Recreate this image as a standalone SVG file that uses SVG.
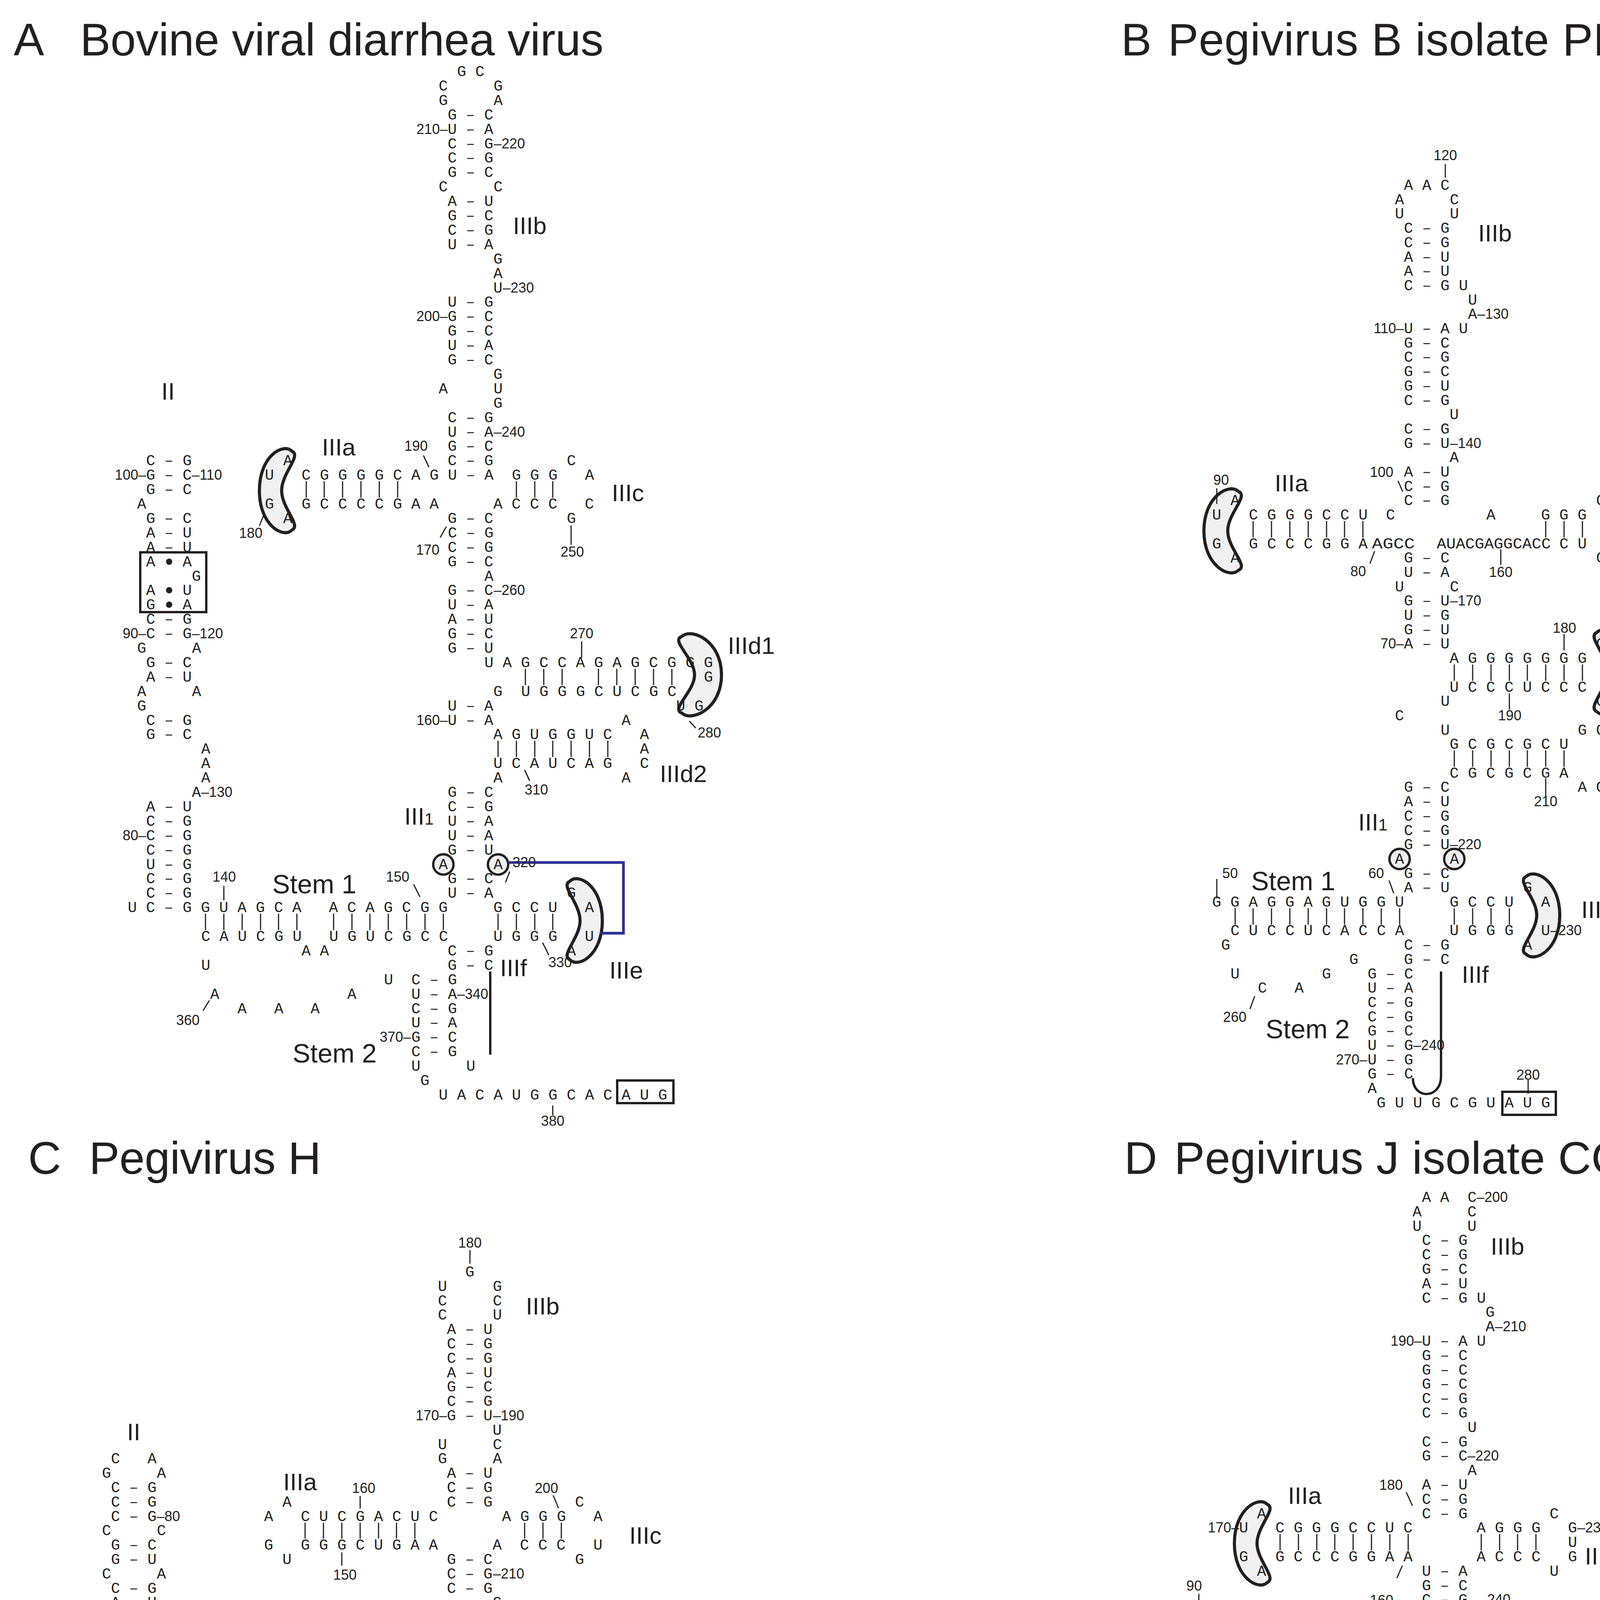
<svg xmlns="http://www.w3.org/2000/svg" width="4589" height="6283" viewBox="0 0 4589 6283" xml:space="preserve">
<style>
.n{font-family:"Liberation Mono","DejaVu Sans Mono",monospace;font-size:39px;fill:#231f20;white-space:pre}
.m{font-family:"Liberation Sans",Arial,sans-serif;font-size:36px;fill:#231f20}
.mm{font-family:"Liberation Sans",Arial,sans-serif;font-size:36px;fill:#231f20;text-anchor:middle}
.me{font-family:"Liberation Sans",Arial,sans-serif;font-size:36px;fill:#231f20;text-anchor:end}
.l{font-family:"Liberation Sans",Arial,sans-serif;font-size:62px;fill:#231f20}
.s{font-family:"Liberation Sans",Arial,sans-serif;font-size:68px;fill:#231f20}
.t{font-family:"Liberation Sans",Arial,sans-serif;font-size:117px;fill:#231f20}
.b{stroke:#231f20;stroke-width:3;fill:none}
.k{stroke:#231f20;stroke-width:8;fill:#f0f0f0}
.c{stroke:#231f20;stroke-width:6;fill:#f0f0f0}
.r{stroke:#231f20;stroke-width:6;fill:none}
.v{stroke:#231f20;stroke-width:6;fill:none}
</style>
<rect width="4589" height="6283" fill="#fff"/>
<g id="titles">
<text class="t" x="35" y="142">A</text><text class="t" x="205" y="142" textLength="1340">Bovine viral diarrhea virus</text>
<text class="t" x="2870" y="142">B</text><text class="t" x="2990" y="142" textLength="1555">Pegivirus B isolate PDB-1734</text>
<text class="t" x="72" y="3005">C</text><text class="t" x="228" y="3005" textLength="594">Pegivirus H</text>
<text class="t" x="2878" y="3005">D</text><text class="t" x="3006" y="3005" textLength="1283">Pegivirus J isolate CC61</text>
</g>
<g id="shapes">
<path class="k" d="M747,1155 C773,1166 721,1211 721,1256 C721,1301 773,1346 747,1357 C726,1379 664,1346 664,1256 C664,1166 726,1133 747,1155Z"/>
<path class="k" d="M1746,1629 C1715,1640 1778,1684 1778,1728 C1778,1771 1715,1815 1746,1826 C1771,1848 1847,1815 1847,1728 C1847,1640 1771,1607 1746,1629Z"/>
<path class="k" d="M1459,2256 C1433,2267 1485,2312 1485,2357 C1485,2401 1433,2446 1459,2457 C1480,2479 1542,2446 1542,2357 C1542,2267 1480,2234 1459,2256Z"/>
<path class="k" d="M3170,1258 C3198,1269 3143,1314 3143,1359 C3143,1404 3198,1449 3170,1460 C3148,1482 3082,1449 3082,1359 C3082,1269 3148,1236 3170,1258Z"/>
<path class="k" d="M4088,1619 C4062,1630 4115,1675 4115,1720 C4115,1765 4062,1810 4088,1822 C4110,1844 4174,1810 4174,1720 C4174,1630 4110,1597 4088,1619Z"/>
<path class="k" d="M3907,2244 C3881,2255 3934,2299 3934,2343 C3934,2387 3881,2432 3907,2443 C3930,2465 3993,2432 3993,2343 C3993,2255 3930,2222 3907,2244Z"/>
<path class="k" d="M1457,4953 C1431,4964 1484,5009 1484,5054 C1484,5099 1431,5144 1457,5156 C1479,5178 1543,5144 1543,5054 C1543,4964 1479,4931 1457,4953Z"/>
<path class="k" d="M1880,4372 C1925,4385 1920,4470 1890,4505 C1860,4540 1800,4545 1790,4515 C1782,4490 1820,4480 1845,4460 C1865,4440 1845,4420 1850,4395 C1855,4375 1868,4368 1880,4372Z"/>
<path class="k" d="M3244,3851 C3270,3862 3218,3907 3218,3951 C3218,3995 3270,4040 3244,4051 C3223,4073 3160,4040 3160,3951 C3160,3862 3223,3829 3244,3851Z"/>
<path class="k" d="M3955,4939 C3924,4950 3987,4994 3987,5038 C3987,5082 3924,5126 3955,5137 C3981,5159 4057,5126 4057,5038 C4057,4950 3981,4917 3955,4939Z"/>
<rect class="k" x="4215" y="4352" width="61" height="140" rx="30"/>
<circle class="c" cx="1135" cy="2213" r="26"/><circle class="c" cx="1275" cy="2213" r="26"/>
<circle class="c" cx="3583" cy="2199" r="26"/><circle class="c" cx="3723" cy="2199" r="26"/>
<circle class="c" cx="1132" cy="4912" r="26"/><circle class="c" cx="1273" cy="4912" r="26"/>
<circle class="c" cx="3628" cy="4905" r="26"/><circle class="c" cx="3768" cy="4905" r="26"/>
<rect class="r" x="359" y="1414" width="169" height="153"/>
<rect class="r" x="1580" y="2766" width="144" height="58"/>
<rect class="r" x="3846" y="2795" width="137" height="59"/>
<rect class="r" x="1039" y="5775" width="70" height="113"/>
<rect class="r" x="2935" y="4445" width="167" height="150"/>
<rect class="r" x="3465" y="5800" width="72" height="122"/>
<g fill="#231f20"><circle cx="433" cy="1438" r="8"/><circle cx="433" cy="1511" r="8"/><circle cx="433" cy="1548" r="8"/><circle cx="3022" cy="4463" r="8"/><circle cx="3022" cy="4537" r="8"/><circle cx="3022" cy="4574" r="8"/></g>
</g>
<g id="connectors">
<path class="b" d="M784,1232V1274M830,1232V1274M877,1232V1274M924,1232V1274M971,1232V1274M1018,1232V1274M1322,1232V1274M1369,1232V1274M1415,1232V1274
M1345,1712V1754M1392,1712V1754M1439,1712V1754M1532,1712V1754M1579,1712V1754M1626,1712V1754M1673,1712V1754M1720,1712V1754
M1275,1896V1938M1322,1896V1938M1369,1896V1938M1415,1896V1938M1462,1896V1938M1509,1896V1938M1556,1896V1938
M526,2339V2381M573,2339V2381M620,2339V2381M667,2339V2381M713,2339V2381M760,2339V2381M854,2339V2381M901,2339V2381M947,2339V2381M994,2339V2381M1041,2339V2381M1088,2339V2381M1135,2339V2381M1275,2339V2381M1322,2339V2381M1369,2339V2381M1415,2339V2381
M1084,1166L1098,1196M664,1346L677,1314M1462,1345V1395M1489,1642V1684M1765,1846L1781,1864M1343,1971L1356,1999M573,2268V2305M1059,2264L1075,2296M1305,2231L1294,2259M1389,2413L1405,2445M520,2587L536,2561M1415,2830V2855"/>
<path class="v" d="M1255,2487V2700"/>
<path d="M1302,2208H1596V2389H1536" stroke="#2e3192" stroke-width="7" fill="none"/>
<path class="b" d="M3208,1334V1376M3255,1334V1376M3302,1334V1376M3349,1334V1376M3396,1334V1376M3442,1334V1376M3489,1334V1376M3957,1334V1376M4004,1334V1376M4051,1334V1376
M3723,1701V1743M3770,1701V1743M3817,1701V1743M3864,1701V1743M3910,1701V1743M3957,1701V1743M4004,1701V1743M4051,1701V1743
M3723,1921V1963M3770,1921V1963M3817,1921V1963M3864,1921V1963M3910,1921V1963M3957,1921V1963M4004,1921V1963
M3162,2325V2367M3208,2325V2367M3255,2325V2367M3302,2325V2367M3349,2325V2367M3396,2325V2367M3442,2325V2367M3489,2325V2367M3536,2325V2367M3583,2325V2367M3723,2325V2367M3770,2325V2367M3817,2325V2367M3864,2325V2367
M3700,420V455M3579,1231L3591,1259M3115,1250V1290M3519,1411L3507,1443M3842,1406V1446M4004,1623V1665M3864,1775V1817M3957,1992V2040M3556,2254L3568,2287M3115,2250V2300M3212,2550L3200,2583M3912,2762V2800"/>
<path class="v" d="M3689,2487V2755C3689,2815 3617,2815 3617,2760"/>
<path class="b" d="M781,3898V3939M828,3898V3939M875,3898V3939M922,3898V3939M969,3898V3939M1015,3898V3939M1062,3898V3939M1343,3898V3939M1390,3898V3939M1437,3898V3939
M1343,4413V4454M1390,4413V4454M1437,4413V4454M1483,4413V4454M1530,4413V4454M1624,4413V4454M1671,4413V4454M1717,4413V4454M1764,4413V4454
M1343,4597V4638M1390,4597V4638M1437,4597V4638M1483,4597V4638M1530,4597V4638
M758,5038V5080M805,5038V5080M852,5038V5080M898,5038V5080M945,5038V5080M992,5038V5080M1039,5038V5080M1086,5038V5080M1132,5038V5080M1273,5038V5080M1320,5038V5080M1366,5038V5080M1413,5038V5080
M1203,3200V3235M922,3830V3862M1416,3828L1430,3861M875,3974V4008M1665,4347L1648,4377M1701,4495L1718,4526M1530,4675V4708M1460,4930V4962M858,4965V5000M389,5040V5075M815,5260L802,5290M1577,5490V5525M1205,5519L1219,5550"/>
<path class="v" d="M1250,5183V5332M691,5093Q650,5140 680,5188"/>
<path class="b" d="M3277,3927V3969M3324,3927V3969M3371,3927V3969M3417,3927V3969M3464,3927V3969M3511,3927V3969M3558,3927V3969M3605,3927V3969M3792,3927V3969M3839,3927V3969M3885,3927V3969M3932,3927V3969
M3768,4406V4447M3815,4406V4447M3862,4406V4447M3909,4406V4447M3956,4406V4447M4002,4406V4447M4049,4406V4447M4096,4406V4447M4143,4406V4447
M3792,4590V4631M3839,4590V4631M3885,4590V4631M3932,4590V4631M3979,4590V4631
M3162,4700V4742M3209,4700V4742M3256,4700V4742M3303,4700V4742M3349,4700V4742
M3209,5031V5073M3256,5031V5073M3303,5031V5073M3349,5031V5073M3396,5031V5073M3443,5031V5073M3490,5031V5073M3537,5031V5073M3583,5031V5073M3630,5031V5073M3768,5031V5073M3815,5031V5073M3862,5031V5073M3909,5031V5073
M3600,3820L3616,3855M3590,4008L3576,4040M3069,4080V4115M3862,4335V4375M3302,4625V4668M4026,4700V4738M3182,4768L3194,4797M3956,4918V4958M3191,4962L3180,4988M3605,4965L3616,4988M3745,5465V5512M3511,5402V5440"/>
<path class="v" d="M3698,5185V5310M3177,5087Q3135,5100 3138,5125M3138,5190Q3140,5215 3177,5225"/>
</g>
<g id="panelA">
<text class="n" x="1170" y="195">G C</text>
<text class="n" x="1123" y="232">C     G</text>
<text class="n" x="1123" y="269">G     A</text>
<text class="n" x="1146" y="306">G – C</text>
<text class="n" x="1146" y="343">U – A</text>
<text class="n" x="1146" y="380">C – G</text>
<text class="n" x="1146" y="416">C – G</text>
<text class="n" x="1146" y="453">G – C</text>
<text class="n" x="1123" y="490">C     C</text>
<text class="n" x="1146" y="527">A – U</text>
<text class="n" x="1146" y="564">G – C</text>
<text class="n" x="1146" y="601">C – G</text>
<text class="n" x="1146" y="638">U – A</text>
<text class="n" x="1263" y="675">G</text>
<text class="n" x="1263" y="712">A</text>
<text class="n" x="1263" y="749">U</text>
<text class="n" x="1146" y="785">U – G</text>
<text class="n" x="1146" y="822">G – C</text>
<text class="n" x="1146" y="859">G – C</text>
<text class="n" x="1146" y="896">U – A</text>
<text class="n" x="1146" y="933">G – C</text>
<text class="n" x="1263" y="970">G</text>
<text class="n" x="1123" y="1007">A     U</text>
<text class="n" x="1263" y="1044">G</text>
<text class="n" x="1146" y="1081">C – G</text>
<text class="n" x="1146" y="1118">U – A</text>
<text class="n" x="1146" y="1154">G – C</text>
<text class="n" x="1146" y="1191">C – G</text><text class="n" x="1451" y="1191">C</text><text class="n" x="725" y="1191">A</text><text class="n" x="374" y="1191">C – G</text>
<text class="n" x="374" y="1228">G – C</text><text class="n" x="678" y="1228">U</text><text class="n" x="772" y="1228">C G G G G C A G U – A  G G G   A</text>
<text class="n" x="374" y="1265">G – C</text>
<text class="n" x="351" y="1302">A</text><text class="n" x="678" y="1302">G</text><text class="n" x="772" y="1302">G C C C C G A A</text><text class="n" x="1263" y="1302">A C C C   C</text>
<text class="n" x="374" y="1339">G – C</text><text class="n" x="725" y="1339">A</text><text class="n" x="1146" y="1339">G – C</text><text class="n" x="1451" y="1339">G</text>
<text class="n" x="374" y="1376">A – U</text><text class="n" x="1123" y="1376">/C – G</text>
<text class="n" x="374" y="1413">A – U</text><text class="n" x="1146" y="1413">C – G</text>
<text class="n" x="374" y="1450">A   A</text><text class="n" x="1146" y="1450">G – C</text>
<text class="n" x="491" y="1487">G</text><text class="n" x="1240" y="1487">A</text>
<text class="n" x="374" y="1523">A   U</text><text class="n" x="1146" y="1523">G – C</text>
<text class="n" x="374" y="1560">G   A</text><text class="n" x="1146" y="1560">U – A</text>
<text class="n" x="374" y="1597">C – G</text><text class="n" x="1146" y="1597">A – U</text>
<text class="n" x="374" y="1634">C – G</text><text class="n" x="1146" y="1634">G – C</text>
<text class="n" x="351" y="1671">G     A</text><text class="n" x="1146" y="1671">G – U</text>
<text class="n" x="374" y="1708">G – C</text><text class="n" x="1240" y="1708">U A G C C A G A G C G</text><text class="n" x="1755" y="1708">G G</text>
<text class="n" x="374" y="1745">A – U</text><text class="n" x="1802" y="1745">G</text>
<text class="n" x="351" y="1782">A     A</text><text class="n" x="1263" y="1782">G</text><text class="n" x="1334" y="1782">U G G G C U C G C</text>
<text class="n" x="351" y="1819">G</text><text class="n" x="1146" y="1819">U – A</text><text class="n" x="1731" y="1819">U G</text>
<text class="n" x="374" y="1856">C – G</text><text class="n" x="1146" y="1856">U – A</text><text class="n" x="1591" y="1856">A</text>
<text class="n" x="374" y="1892">G – C</text><text class="n" x="1263" y="1892">A G U G G U C</text><text class="n" x="1638" y="1892">A</text>
<text class="n" x="515" y="1929">A</text><text class="n" x="1638" y="1929">A</text>
<text class="n" x="515" y="1966">A</text><text class="n" x="1263" y="1966">U C A U C A G</text><text class="n" x="1638" y="1966">C</text>
<text class="n" x="515" y="2003">A</text><text class="n" x="1263" y="2003">A</text><text class="n" x="1591" y="2003">A</text>
<text class="n" x="491" y="2040">A</text><text class="n" x="1146" y="2040">G – C</text>
<text class="n" x="374" y="2077">A – U</text><text class="n" x="1146" y="2077">C – G</text>
<text class="n" x="374" y="2114">C – G</text><text class="n" x="1146" y="2114">U – A</text>
<text class="n" x="374" y="2151">C – G</text><text class="n" x="1146" y="2151">U – A</text>
<text class="n" x="374" y="2188">C – G</text><text class="n" x="1146" y="2188">G – U</text>
<text class="n" x="374" y="2225">U – G</text><text class="n" x="1123" y="2225">A     A</text>
<text class="n" x="374" y="2261">C – G</text><text class="n" x="1146" y="2261">G – C</text>
<text class="n" x="374" y="2298">C – G</text><text class="n" x="1146" y="2298">U – A</text><text class="n" x="1451" y="2298">G</text>
<text class="n" x="327" y="2335">U C – G G U A G C A   A C A G C G G</text><text class="n" x="1263" y="2335">G C C U   A</text>
<text class="n" x="515" y="2409">C A U C G U   U G U C G C C</text><text class="n" x="1263" y="2409">U G G G   U</text>
<text class="n" x="772" y="2446">A A</text><text class="n" x="1146" y="2446">C – G</text><text class="n" x="1451" y="2446">A</text>
<text class="n" x="515" y="2483">U</text><text class="n" x="1146" y="2483">G – C</text>
<text class="n" x="983" y="2520">U</text><text class="n" x="1053" y="2520">C – G</text>
<text class="n" x="538" y="2557">A</text><text class="n" x="889" y="2557">A</text><text class="n" x="1053" y="2557">U – A</text>
<text class="n" x="608" y="2594">A</text><text class="n" x="702" y="2594">A</text><text class="n" x="795" y="2594">A</text><text class="n" x="1053" y="2594">C – G</text>
<text class="n" x="1053" y="2630">U – A</text>
<text class="n" x="1053" y="2667">G – C</text>
<text class="n" x="1053" y="2704">C – G</text>
<text class="n" x="1053" y="2741">U     U</text>
<text class="n" x="1076" y="2778">G</text>
<text class="n" x="1123" y="2815">U A C A U G G C A C A U G</text>
<text class="me" x="1146" y="343">210–</text><text class="m" x="1264" y="380">–220</text><text class="m" x="1287" y="749">–230</text><text class="me" x="1146" y="822">200–</text><text class="m" x="1264" y="1118">–240</text><text class="mm" x="1065" y="1154">190</text>
<text class="me" x="374" y="1228">100–</text><text class="m" x="491" y="1228">–110</text><text class="mm" x="642" y="1377">180</text><text class="me" x="1125" y="1420">170</text><text class="mm" x="1465" y="1425">250</text>
<text class="m" x="1264" y="1523">–260</text><text class="me" x="374" y="1634">90–</text><text class="m" x="491" y="1634">–120</text><text class="mm" x="1489" y="1634">270</text><text class="me" x="1146" y="1856">160–</text><text class="mm" x="1816" y="1888">280</text>
<text class="mm" x="1373" y="2034">310</text><text class="m" x="515" y="2040">–130</text><text class="me" x="374" y="2151">80–</text><text class="m" x="1312" y="2220">320</text><text class="mm" x="574" y="2257">140</text><text class="mm" x="1018" y="2257">150</text>
<text class="mm" x="1434" y="2476">330</text><text class="m" x="1170" y="2557">–340</text><text class="mm" x="481" y="2624">360</text><text class="me" x="1052" y="2667">370–</text><text class="mm" x="1415" y="2882">380</text>
<text class="l" x="413" y="1023">II</text><text class="l" x="824" y="1166">IIIa</text><text class="l" x="1313" y="599">IIIb</text><text class="l" x="1566" y="1283">IIIc</text><text class="l" x="1863" y="1674">IIId1</text><text class="l" x="1689" y="2002">IIId2</text>
<text class="l" x="1035" y="2111">III<tspan font-size="42">1</tspan></text><text class="s" x="697" y="2287">Stem 1</text><text class="l" x="1280" y="2499">IIIf</text><text class="l" x="1560" y="2505">IIIe</text><text class="s" x="749" y="2720">Stem 2</text>
</g>
<g id="panelB">
<text class="n" x="3594" y="486">A A C</text>
<text class="n" x="3571" y="523">A     C</text>
<text class="n" x="3571" y="559">U     U</text>
<text class="n" x="3594" y="596">C – G</text>
<text class="n" x="3594" y="633">C – G</text>
<text class="n" x="3594" y="670">A – U</text>
<text class="n" x="3594" y="706">A – U</text>
<text class="n" x="3594" y="743">C – G U</text>
<text class="n" x="3758" y="780">U</text>
<text class="n" x="3758" y="816">A</text>
<text class="n" x="3594" y="853">U – A U</text>
<text class="n" x="3594" y="890">G – C</text>
<text class="n" x="3594" y="926">C – G</text>
<text class="n" x="3594" y="963">G – C</text>
<text class="n" x="3594" y="1000">G – U</text>
<text class="n" x="3594" y="1037">C – G</text>
<text class="n" x="3711" y="1073">U</text>
<text class="n" x="3594" y="1110">C – G</text>
<text class="n" x="3594" y="1147">G – U</text>
<text class="n" x="3711" y="1183">A</text>
<text class="n" x="3594" y="1220">A – U</text>
<text class="n" x="3594" y="1257">C – G</text>
<text class="n" x="3594" y="1293">C – G</text><text class="n" x="4086" y="1293">C</text><text class="n" x="3150" y="1293">A</text>
<text class="n" x="3103" y="1330">U</text><text class="n" x="3197" y="1330">C G G G C C U</text><text class="n" x="3548" y="1330">C</text><text class="n" x="3805" y="1330">A</text><text class="n" x="3945" y="1330">G G G</text><text class="n" x="4133" y="1330">A</text>
<text class="n" x="3103" y="1404">G</text><text class="n" x="3197" y="1404">G C C C G G A</text><text class="n" x="3512" y="1404" textLength="110" lengthAdjust="spacingAndGlyphs">AGCC</text><text class="n" x="3678" y="1404" textLength="292" lengthAdjust="spacingAndGlyphs">AUACGAGGCACC</text><text class="n" x="3992" y="1404">C U</text><text class="n" x="4133" y="1404">U</text>
<text class="n" x="3150" y="1440">A</text><text class="n" x="3594" y="1440">G – C</text><text class="n" x="4086" y="1440">G</text>
<text class="n" x="3594" y="1477">U – A</text>
<text class="n" x="3571" y="1514">U     C</text>
<text class="n" x="3594" y="1550">G – U</text>
<text class="n" x="3594" y="1587">U – G</text>
<text class="n" x="3594" y="1624">G – U</text>
<text class="n" x="3594" y="1660">A – U</text><text class="n" x="4086" y="1660">G</text>
<text class="n" x="3711" y="1697">A G G G G G G G</text><text class="n" x="4133" y="1697">G</text>
<text class="n" x="3711" y="1771">U C C C U C C C</text><text class="n" x="4133" y="1771">G</text>
<text class="n" x="3688" y="1807">U</text><text class="n" x="4086" y="1807">G</text>
<text class="n" x="3571" y="1844">C</text>
<text class="n" x="3688" y="1881">U</text><text class="n" x="4039" y="1881">G C</text>
<text class="n" x="3711" y="1917">G C G C G C U</text><text class="n" x="4133" y="1917">G</text>
<text class="n" x="3711" y="1991">C G C G C G A</text><text class="n" x="4133" y="1991">G</text>
<text class="n" x="3594" y="2027">G – C</text><text class="n" x="4039" y="2027">A C</text>
<text class="n" x="3594" y="2064">A – U</text>
<text class="n" x="3594" y="2101">C – G</text>
<text class="n" x="3594" y="2138">C – G</text>
<text class="n" x="3594" y="2174">G – U</text>
<text class="n" x="3571" y="2211">A     A</text>
<text class="n" x="3594" y="2248">G – C</text>
<text class="n" x="3594" y="2284">A – U</text><text class="n" x="3899" y="2284">G</text>
<text class="n" x="3103" y="2321">G G A G G A G U G G U</text><text class="n" x="3711" y="2321">G C C U</text><text class="n" x="3945" y="2321">A</text>
<text class="n" x="3150" y="2394">C U C C U C A C C A</text><text class="n" x="3711" y="2394">U G G G</text><text class="n" x="3945" y="2394">U</text>
<text class="n" x="3126" y="2431">G</text><text class="n" x="3594" y="2431">C – G</text><text class="n" x="3899" y="2431">A</text>
<text class="n" x="3454" y="2468">G</text><text class="n" x="3594" y="2468">G – C</text>
<text class="n" x="3150" y="2505">U</text><text class="n" x="3384" y="2505">G</text><text class="n" x="3501" y="2505">G – C</text>
<text class="n" x="3220" y="2541">C</text><text class="n" x="3314" y="2541">A</text><text class="n" x="3501" y="2541">U – A</text>
<text class="n" x="3501" y="2578">C – G</text>
<text class="n" x="3501" y="2615">C – G</text>
<text class="n" x="3501" y="2651">G – C</text>
<text class="n" x="3501" y="2688">U – G</text>
<text class="n" x="3501" y="2725">U – G</text>
<text class="n" x="3501" y="2761">G – C</text>
<text class="n" x="3501" y="2798">A</text>
<text class="n" x="3524" y="2835">G U U G C G U A U G</text>
<text class="mm" x="3700" y="410">120</text><text class="m" x="3782" y="816">–130</text><text class="me" x="3594" y="853">110–</text><text class="m" x="3712" y="1147">–140</text><text class="mm" x="3537" y="1221">100</text><text class="mm" x="3126" y="1241">90</text>
<text class="m" x="4156" y="1330">–150</text><text class="mm" x="3477" y="1475">80</text><text class="mm" x="3842" y="1477">160</text><text class="m" x="3712" y="1550">–170</text><text class="me" x="3594" y="1660">70–</text><text class="mm" x="4005" y="1620">180</text>
<text class="mm" x="3865" y="1844">190</text><text class="mm" x="3957" y="2064">210</text><text class="m" x="3712" y="2174">–220</text><text class="mm" x="3523" y="2248">60</text><text class="mm" x="3149" y="2248">50</text><text class="m" x="3969" y="2394">–230</text>
<text class="mm" x="3161" y="2616">260</text><text class="m" x="3618" y="2688">–240</text><text class="me" x="3500" y="2725">270–</text><text class="mm" x="3912" y="2764">280</text>
<text class="l" x="3784" y="618">IIIb</text><text class="l" x="3263" y="1258">IIIa</text><text class="l" x="4197" y="1403">IIIc</text><text class="l" x="4220" y="1717">IIId1</text><text class="l" x="4188" y="1958">IIId2</text>
<text class="l" x="3477" y="2126">III<tspan font-size="42">1</tspan></text><text class="s" x="3203" y="2279">Stem 1</text><text class="l" x="4048" y="2350">IIIe</text><text class="l" x="3742" y="2516">IIIf</text><text class="s" x="3240" y="2658">Stem 2</text>
</g>
<g id="panelC">
<text class="n" x="1191" y="3268">G</text>
<text class="n" x="1121" y="3305">U     G</text>
<text class="n" x="1121" y="3342">C     C</text>
<text class="n" x="1121" y="3378">C     U</text>
<text class="n" x="1144" y="3415">A – U</text>
<text class="n" x="1144" y="3452">C – G</text>
<text class="n" x="1144" y="3489">C – G</text>
<text class="n" x="1144" y="3526">A – U</text>
<text class="n" x="1144" y="3562">G – C</text>
<text class="n" x="1144" y="3599">C – G</text>
<text class="n" x="1144" y="3636">G – U</text>
<text class="n" x="1261" y="3673">U</text>
<text class="n" x="1121" y="3710">U     C</text>
<text class="n" x="1121" y="3746">G     A</text><text class="n" x="284" y="3746">C   A</text>
<text class="n" x="1144" y="3783">A – U</text><text class="n" x="261" y="3783">G     A</text>
<text class="n" x="284" y="3820">C – G</text><text class="n" x="1144" y="3820">C – G</text>
<text class="n" x="284" y="3857">C – G</text><text class="n" x="723" y="3857">A</text><text class="n" x="1144" y="3857">C – G</text><text class="n" x="1472" y="3857">C</text>
<text class="n" x="284" y="3894">C – G</text><text class="n" x="676" y="3894">A</text><text class="n" x="770" y="3894">C U C G A C U C</text><text class="n" x="1285" y="3894">A G G G</text><text class="n" x="1519" y="3894">A</text>
<text class="n" x="261" y="3930">C     C</text>
<text class="n" x="284" y="3967">G – C</text><text class="n" x="676" y="3967">G</text><text class="n" x="770" y="3967">G G G C U G A A</text><text class="n" x="1261" y="3967">A</text><text class="n" x="1331" y="3967">C C C</text><text class="n" x="1519" y="3967">U</text>
<text class="n" x="284" y="4004">G – U</text><text class="n" x="723" y="4004">U</text><text class="n" x="1144" y="4004">G – C</text><text class="n" x="1472" y="4004">G</text>
<text class="n" x="261" y="4041">C     A</text><text class="n" x="1144" y="4041">C – G</text>
<text class="n" x="284" y="4078">C – G</text><text class="n" x="1144" y="4078">C – G</text>
<text class="n" x="284" y="4114">A – U</text><text class="n" x="1261" y="4114">G</text>
<text class="n" x="261" y="4151">G     A</text><text class="n" x="1121" y="4151">A     A</text>
<text class="n" x="284" y="4188">C – G</text><text class="n" x="1261" y="4188">A</text>
<text class="n" x="284" y="4225">C – G</text><text class="n" x="1261" y="4225">C</text>
<text class="n" x="261" y="4262">G     A</text><text class="n" x="1144" y="4262">C – G</text>
<text class="n" x="284" y="4298">G – C</text><text class="n" x="1144" y="4298">G – C</text>
<text class="n" x="284" y="4335">C – G</text><text class="n" x="1144" y="4335">A – U</text>
<text class="n" x="261" y="4372">C     U</text><text class="n" x="1144" y="4372">C – G/</text><text class="n" x="1542" y="4372">A A</text><text class="n" x="1799" y="4372">U</text>
<text class="n" x="284" y="4409">C – G</text><text class="n" x="1232" y="4409" textLength="94" lengthAdjust="spacingAndGlyphs">AUC</text><text class="n" x="1331" y="4409">G U G C A</text><text class="n" x="1612" y="4409">G G G A</text><text class="n" x="1846" y="4409">G</text>
<text class="n" x="284" y="4446">G – U</text>
<text class="n" x="284" y="4482">C – G</text><text class="n" x="1331" y="4482">C A C G U</text><text class="n" x="1612" y="4482">C C C U</text><text class="n" x="1846" y="4482">G</text>
<text class="n" x="401" y="4519">A</text><text class="n" x="1261" y="4519">U</text><text class="n" x="1799" y="4519">G</text>
<text class="n" x="284" y="4556">G – C</text><text class="n" x="1121" y="4556">G</text><text class="n" x="1261" y="4556">G</text><text class="n" x="1565" y="4556">A U</text>
<text class="n" x="261" y="4593">G     A</text><text class="n" x="1331" y="4593">G U G C C</text><text class="n" x="1659" y="4593">G</text>
<text class="n" x="401" y="4630">A</text>
<text class="n" x="284" y="4666">A – U</text><text class="n" x="1238" y="4666">A C C A C G G</text><text class="n" x="1659" y="4666">C</text>
<text class="n" x="284" y="4703">U – G</text><text class="n" x="1144" y="4703">G – C</text><text class="n" x="1565" y="4703">C G</text>
<text class="n" x="284" y="4740">G – C</text><text class="n" x="1144" y="4740">A – U</text>
<text class="n" x="284" y="4777">G – C</text><text class="n" x="1144" y="4777">G – C</text>
<text class="n" x="284" y="4814">U – A</text><text class="n" x="1144" y="4814">G – C</text>
<text class="n" x="261" y="4850">U</text><text class="n" x="1144" y="4850">C – G</text>
<text class="n" x="261" y="4887">A     U</text><text class="n" x="1144" y="4887">G – U</text>
<text class="n" x="261" y="4924">A     G</text><text class="n" x="1121" y="4924">A     A</text>
<text class="n" x="284" y="4961">U – A</text><text class="n" x="1144" y="4961">G – C</text>
<text class="n" x="284" y="4998">C – G/</text><text class="n" x="1144" y="4998">U – A</text><text class="n" x="1448" y="4998">G</text>
<text class="n" x="237" y="5034">G C – G G A U C A U G A C A C U G G</text><text class="n" x="1121" y="5034">G</text><text class="n" x="1261" y="5034">G C C U</text><text class="n" x="1495" y="5034">A</text>
<text class="n" x="746" y="5108">U G U G A C C C C</text><text class="n" x="1261" y="5108">U G G G</text><text class="n" x="1495" y="5108">U</text>
<text class="n" x="1144" y="5145">C – G</text><text class="n" x="1448" y="5145">A</text>
<text class="n" x="1144" y="5182">C – G</text>
<text class="n" x="723" y="5218">G</text><text class="n" x="1051" y="5218">G – C</text>
<text class="n" x="817" y="5255">A</text><text class="n" x="934" y="5255">C</text><text class="n" x="1051" y="5255">U – G</text>
<text class="n" x="1051" y="5292">C – G</text>
<text class="n" x="1051" y="5329">C – G</text>
<text class="n" x="1051" y="5366">G – C</text><text class="n" x="1238" y="5366">C</text>
<text class="n" x="1051" y="5402">U – G G</text>
<text class="n" x="1051" y="5439">G</text>
<text class="n" x="1051" y="5476">G – C C A G U C G U G G</text>
<text class="n" x="1051" y="5513">A – U</text>
<text class="n" x="1051" y="5550">G – C</text>
<text class="n" x="1027" y="5586">C     U</text>
<text class="n" x="1051" y="5623">G – U</text>
<text class="n" x="1051" y="5660">C – G</text>
<text class="n" x="1051" y="5697">A – U</text>
<text class="n" x="1051" y="5734">A – U</text>
<text class="n" x="1027" y="5770">C</text>
<text class="n" x="1051" y="5807">A – U</text>
<text class="n" x="1051" y="5844">U – A</text>
<text class="n" x="1051" y="5881">G – C</text>
<text class="n" x="1051" y="5918">G – C</text>
<text class="n" x="1027" y="5954">G     A</text>
<text class="n" x="1027" y="5991">G     A</text>
<text class="n" x="1051" y="6028">U – A</text>
<text class="n" x="1051" y="6065">G – C</text>
<text class="n" x="1027" y="6102">U     U</text>
<text class="n" x="1051" y="6138">U – A</text>
<text class="n" x="1051" y="6175">C – G</text>
<text class="n" x="1027" y="6212">A     U</text>
<text class="n" x="1051" y="6249">A   C</text>
<text class="mm" x="1203" y="3194">180</text><text class="me" x="1144" y="3636">170–</text><text class="m" x="1262" y="3636">–190</text><text class="m" x="401" y="3894">–80</text><text class="mm" x="931" y="3822">160</text><text class="mm" x="1399" y="3822">200</text>
<text class="m" x="1262" y="4041">–210</text><text class="mm" x="883" y="4044">150</text><text class="m" x="425" y="4262">–90</text><text class="me" x="1144" y="4262">140–</text><text class="me" x="284" y="4298">60–</text><text class="mm" x="1329" y="4338">220</text>
<text class="mm" x="1704" y="4338">230</text><text class="mm" x="1752" y="4561">240</text><text class="m" x="425" y="4630">–100</text><text class="mm" x="1515" y="4735">280</text><text class="me" x="284" y="4740">50–</text><text class="m" x="1262" y="4814">–270</text>
<text class="me" x="1144" y="4887">130–</text><text class="mm" x="1468" y="4918">280</text><text class="mm" x="849" y="4957">12</text><text class="mm" x="390" y="5104">110</text><text class="mm" x="765" y="5323">310</text><text class="m" x="1262" y="5366">–290</text>
<text class="mm" x="1577" y="5547">370</text><text class="me" x="1050" y="5513">320–</text><text class="mm" x="1258" y="5583">360</text><text class="me" x="1050" y="5881">330–</text><text class="me" x="1050" y="6249">340–</text>
<text class="l" x="325" y="3687">II</text><text class="l" x="1346" y="3365">IIIb</text><text class="l" x="725" y="3815">IIIa</text><text class="l" x="1611" y="3952">IIIc</text><text class="l" x="1459" y="4316">IIId1</text><text class="l" x="1718" y="4695">IIId2</text>
<text class="l" x="1035" y="4801">III<tspan font-size="42">1</tspan></text><text class="s" x="725" y="4918">Stem 1</text><text class="l" x="1594" y="5090">IIIe</text><text class="l" x="1306" y="5229">IIIf</text><text class="s" x="776" y="5373">Stem 2</text><text class="l" x="1216" y="5783">IV</text>
</g>
<g id="panelD">
<text class="n" x="3640" y="3077">A A  C</text>
<text class="n" x="3616" y="3114">A     C</text>
<text class="n" x="3616" y="3151">U     U</text>
<text class="n" x="3640" y="3187">C – G</text>
<text class="n" x="3640" y="3224">C – G</text>
<text class="n" x="3640" y="3261">G – C</text>
<text class="n" x="3640" y="3298">A – U</text>
<text class="n" x="3640" y="3335">C – G U</text>
<text class="n" x="3803" y="3371">G</text>
<text class="n" x="3803" y="3408">A</text>
<text class="n" x="3640" y="3445">U – A U</text>
<text class="n" x="3640" y="3482">G – C</text>
<text class="n" x="3640" y="3519">G – C</text>
<text class="n" x="3640" y="3555">G – C</text>
<text class="n" x="3640" y="3592">C – G</text>
<text class="n" x="3640" y="3629">C – G</text>
<text class="n" x="3757" y="3666">U</text>
<text class="n" x="3640" y="3703">C – G</text>
<text class="n" x="3640" y="3739">G – C</text>
<text class="n" x="3757" y="3776">A</text>
<text class="n" x="3640" y="3813">A – U</text>
<text class="n" x="3640" y="3850">C – G</text>
<text class="n" x="3640" y="3887">C – G</text><text class="n" x="3967" y="3887">C</text><text class="n" x="3218" y="3887">A</text>
<text class="n" x="3172" y="3923">U</text><text class="n" x="3265" y="3923">C G G G C C U C</text><text class="n" x="3780" y="3923">A G G G</text><text class="n" x="4014" y="3923">G</text>
<text class="n" x="4014" y="3960">U</text>
<text class="n" x="3172" y="3997">G</text><text class="n" x="3265" y="3997">G C C C G G A A</text><text class="n" x="3780" y="3997">A C C C</text><text class="n" x="4014" y="3997">G</text>
<text class="n" x="3218" y="4034">A</text><text class="n" x="3640" y="4034">U – A</text><text class="n" x="3967" y="4034">U</text>
<text class="n" x="3640" y="4071">G – C</text>
<text class="n" x="3640" y="4107">C – G</text>
<text class="n" x="3640" y="4144">G – C</text><text class="n" x="2963" y="4144">A C C</text>
<text class="n" x="3733" y="4181">U</text><text class="n" x="2940" y="4181">A     A</text>
<text class="n" x="3640" y="4218">G – C</text><text class="n" x="2940" y="4218">U     U</text>
<text class="n" x="3640" y="4255">C – G</text><text class="n" x="2963" y="4255">C – G</text>
<text class="n" x="3640" y="4291">U – A</text><text class="n" x="2963" y="4291">C – G</text>
<text class="n" x="3640" y="4328">G – U</text><text class="n" x="2963" y="4328">U – G</text>
<text class="n" x="3733" y="4365">C</text><text class="n" x="2963" y="4365">C – G</text><text class="n" x="4178" y="4365">U</text>
<text class="n" x="3757" y="4402">G C U G U A G G G</text><text class="n" x="2963" y="4402">G – U</text><text class="n" x="4225" y="4402">G</text>
<text class="n" x="2963" y="4439">A – U</text><text class="n" x="4225" y="4439">G</text>
<text class="n" x="3757" y="4475">U G A C G U C C C</text><text class="n" x="2963" y="4475">A   A</text><text class="n" x="4225" y="4475">G</text>
<text class="n" x="3616" y="4512">A</text><text class="n" x="3733" y="4512">U</text><text class="n" x="4178" y="4512">U</text><text class="n" x="3057" y="4512">G</text>
<text class="n" x="3991" y="4549">U</text><text class="n" x="2963" y="4549">A   U</text>
<text class="n" x="3780" y="4586">G G G U G</text><text class="n" x="4061" y="4586">G</text><text class="n" x="2963" y="4586">G   A</text>
<text class="n" x="2963" y="4623">C – G</text>
<text class="n" x="2963" y="4659">C – G</text><text class="n" x="3385" y="4659">A</text><text class="n" x="3640" y="4659">A – U C C C A U</text><text class="n" x="4061" y="4659">G</text>
<text class="n" x="3057" y="4696">A C G U G G U</text><text class="n" x="3431" y="4696">A</text><text class="n" x="3640" y="4696">U – G</text><text class="n" x="4014" y="4696">C</text>
<text class="n" x="2940" y="4733">G</text><text class="n" x="3640" y="4733">G – C</text>
<text class="n" x="3104" y="4770">U C A C C G</text><text class="n" x="3431" y="4770">A</text><text class="n" x="3640" y="4770">A – U</text>
<text class="n" x="2940" y="4807">G</text><text class="n" x="3080" y="4807">G</text><text class="n" x="3385" y="4807">U</text><text class="n" x="3640" y="4807">G – C</text>
<text class="n" x="3080" y="4843">A</text><text class="n" x="3640" y="4843">C – G</text>
<text class="n" x="2963" y="4880">C – G</text><text class="n" x="3640" y="4880">G – U</text>
<text class="n" x="2963" y="4917">C – G</text><text class="n" x="3616" y="4917">A     A</text>
<text class="n" x="2963" y="4954">C – G</text><text class="n" x="3640" y="4954">G – C</text>
<text class="n" x="2963" y="4991">C – G</text><text class="n" x="3640" y="4991">A – U</text><text class="n" x="3944" y="4991">G</text>
<text class="n" x="2917" y="5027">G A – U U G G A G A G C U G G U</text><text class="n" x="3757" y="5027">G C U U</text><text class="n" x="3991" y="5027">A</text>
<text class="n" x="3197" y="5101">C U C U C G A C C A</text><text class="n" x="3757" y="5101">U G A G</text><text class="n" x="3991" y="5101">U</text>
<text class="n" x="3593" y="5138">G – C</text><text class="n" x="3944" y="5138">A</text>
<text class="n" x="3127" y="5175">G</text><text class="n" x="3593" y="5175">G – C</text>
<text class="n" x="3431" y="5211">A</text><text class="n" x="3499" y="5211">G – C</text>
<text class="n" x="3197" y="5248">U</text><text class="n" x="3314" y="5248">C</text><text class="n" x="3499" y="5248">U – A</text>
<text class="n" x="3499" y="5285">C – G</text>
<text class="n" x="3499" y="5322">C – G</text>
<text class="n" x="3499" y="5359">G – C</text><text class="n" x="3686" y="5359">C</text>
<text class="n" x="3499" y="5395">U</text><text class="n" x="3616" y="5395">G G</text>
<text class="n" x="3499" y="5469">G – C U U A G</text>
<text class="n" x="3499" y="5506">G – C</text>
<text class="n" x="3499" y="5543">A – U</text>
<text class="n" x="3499" y="5579">G – U</text>
<text class="n" x="3499" y="5616">U – A</text>
<text class="n" x="3499" y="5653">U – A</text>
<text class="n" x="3499" y="5690">G – C</text>
<text class="n" x="3476" y="5727">C</text><text class="n" x="3616" y="5727">A</text>
<text class="n" x="3499" y="5763">A – U</text>
<text class="n" x="3499" y="5800">C – G</text>
<text class="n" x="3499" y="5837">A – U</text>
<text class="n" x="3499" y="5874">U – G</text>
<text class="n" x="3476" y="5911">G</text><text class="n" x="3616" y="5911">A</text>
<text class="n" x="3499" y="5947">G   C</text>
<text class="m" x="3780" y="3077">–200</text><text class="m" x="3827" y="3408">–210</text><text class="me" x="3640" y="3445">190–</text><text class="m" x="3757" y="3739">–220</text><text class="mm" x="3561" y="3814">180</text><text class="me" x="3172" y="3923">170–</text>
<text class="m" x="4038" y="3923">–230</text><text class="mm" x="3537" y="4109">160</text><text class="mm" x="3057" y="4072">90</text><text class="m" x="3787" y="4107">–240</text><text class="mm" x="3864" y="4332">250</text><text class="me" x="2963" y="4439">80–</text>
<text class="m" x="3081" y="4512">–100</text><text class="mm" x="3302" y="4617">110</text><text class="me" x="3640" y="4659">150–</text><text class="mm" x="4030" y="4764">280</text><text class="m" x="3757" y="4807">–290</text><text class="mm" x="3233" y="4840">120</text>
<text class="mm" x="3961" y="4912">300</text><text class="me" x="2963" y="4954">70–</text><text class="mm" x="3186" y="4950">130</text><text class="mm" x="3561" y="4950">140</text><text class="me" x="3127" y="5175">330–</text><text class="m" x="3710" y="5359">–310</text>
<text class="me" x="3499" y="5469">340–</text><text class="mm" x="3749" y="5540">370</text><text class="m" x="3640" y="5727">–360</text><text class="me" x="3499" y="5837">350–</text>
<text class="l" x="3816" y="3212">IIIb</text><text class="l" x="3297" y="3850">IIIa</text><text class="l" x="4057" y="4005">IIIc</text><text class="l" x="3129" y="4220">IIa</text><text class="l" x="3975" y="4350">IIId1</text><text class="l" x="3369" y="4615">IIb</text>
<text class="l" x="4110" y="4645">IIId2</text><text class="l" x="3759" y="4742">III<tspan font-size="42">1</tspan></text><text class="s" x="3263" y="4975">Stem 1</text><text class="l" x="4066" y="5075">IIIe</text><text class="l" x="3754" y="5185">IIIf</text><text class="s" x="3244" y="5360">Stem 2</text><text class="l" x="3398" y="5635">IV</text>
</g>
</svg>
